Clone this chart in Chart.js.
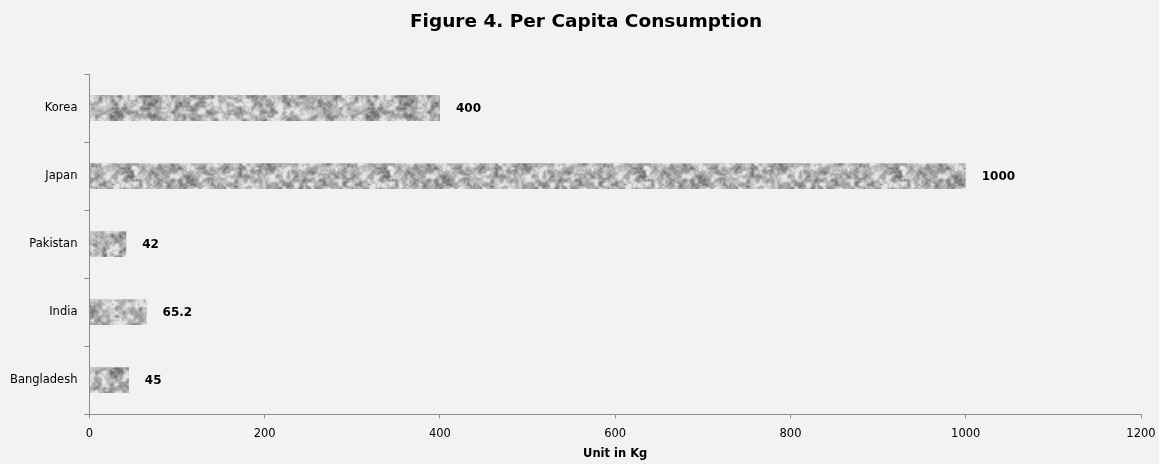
<!DOCTYPE html>
<html>
<head>
<meta charset="utf-8">
<script src="https://cdn.jsdelivr.net/npm/chart.js@4.4.1/dist/chart.umd.min.js"></script>
<style>
  html, body { margin: 0; padding: 0; background: #f2f2f2; }
  #wrap { width: 1159px; height: 464px; position: relative; }
</style>
</head>
<body>
<div id="wrap"><canvas id="chart" width="1159" height="464"></canvas></div>
<script>
// Per capita consumption by country (kg)
const countries = ['Korea', 'Japan', 'Pakistan', 'India', 'Bangladesh'];
const consumption = [400, 1000, 42, 65.2, 45];
const xTicks = [0, 200, 400, 600, 800, 1000, 1200];
const chartTitle = 'Figure 4. Per Capita Consumption';

const FONT = "'DejaVu Sans', Verdana, sans-serif";

// Granite-like fill: smoothed value noise from a seeded generator
function makeGranite(size) {
  let s = 98765;
  const rnd = () => { s = (s * 1664525 + 1013904223) >>> 0; return s / 4294967296; };
  function grid(n) { const g = []; for (let i = 0; i < n * n; i++) g.push(rnd()); return g; }
  function sample(g, n, x, y) {
    const xi = Math.floor(x), yi = Math.floor(y), fx = x - xi, fy = y - yi;
    const a = g[((yi % n) * n + (xi % n))], b = g[((yi % n) * n + ((xi + 1) % n))];
    const c = g[(((yi + 1) % n) * n + (xi % n))], d = g[(((yi + 1) % n) * n + ((xi + 1) % n))];
    const sx = fx * fx * (3 - 2 * fx), sy = fy * fy * (3 - 2 * fy);
    return (a * (1 - sx) + b * sx) * (1 - sy) + (c * (1 - sx) + d * sx) * sy;
  }
  const octs = [{ cell: 8, w: 0.35 }, { cell: 4, w: 0.4 }, { cell: 2, w: 0.25 }].map(o => {
    const n = size / o.cell; return { n, cell: o.cell, w: o.w, g: grid(n) };
  });
  const cv = document.createElement('canvas');
  cv.width = size; cv.height = size;
  const c = cv.getContext('2d');
  const img = c.createImageData(size, size);
  for (let y = 0; y < size; y++) {
    for (let x = 0; x < size; x++) {
      let v = 0;
      for (const o of octs) v += o.w * sample(o.g, o.n, x / o.cell, y / o.cell);
      v = Math.min(1, Math.max(0, (v - 0.5) * 1.8 + 0.58));
      const gray = Math.round(110 + v * 120);
      const i = (y * size + x) * 4;
      img.data[i] = gray; img.data[i + 1] = gray; img.data[i + 2] = gray + 3; img.data[i + 3] = 255;
    }
  }
  c.putImageData(img, 0, 0);
  return c.createPattern(cv, 'repeat');
}

const ctx = document.getElementById('chart').getContext('2d');
const granite = makeGranite(256);

// Value labels to the right of each bar
const valueLabels = {
  id: 'valueLabels',
  afterDatasetsDraw(chart) {
    const c = chart.ctx;
    const meta = chart.getDatasetMeta(0);
    c.save();
    c.font = "bold 12px " + FONT;
    c.fillStyle = '#000';
    c.textAlign = 'left';
    c.textBaseline = 'middle';
    meta.data.forEach((bar, i) => {
      const v = chart.data.datasets[0].data[i];
      c.fillText(String(v), bar.x + 16, bar.y + 1);
    });
    c.restore();
  }
};

// Background fill and heading
const frame = {
  id: 'frame',
  beforeDraw(chart) {
    const c = chart.ctx;
    c.save();
    c.fillStyle = '#f2f2f2';
    c.fillRect(0, 0, chart.width, chart.height);
    c.font = "bold 18.5px " + FONT;
    c.fillStyle = '#000';
    c.textAlign = 'center';
    c.textBaseline = 'middle';
    c.fillText(chartTitle, 586, 22);
    c.restore();
  }
};

new Chart(ctx, {
  type: 'bar',
  data: {
    labels: countries,
    datasets: [{
      data: consumption,
      backgroundColor: granite,
      borderWidth: 0,
      categoryPercentage: 0.76,
      barPercentage: 0.5
    }]
  },
  options: {
    indexAxis: 'y',
    responsive: false,
    animation: false,
    layout: { padding: { top: 74, right: 1, bottom: 3, left: 3 } },
    plugins: {
      legend: { display: false },
      tooltip: { enabled: false },
      title: { display: false }
    },
    scales: {
      x: {
        min: 0, max: 1200,
        afterBuildTicks(scale) { scale.ticks = xTicks.map(v => ({ value: v })); },
        afterFit(scale) { scale.paddingRight = 18; },
        grid: { drawOnChartArea: false, drawTicks: true, tickLength: 4, color: '#8c8c8c' },
        border: { color: '#8c8c8c', width: 1 },
        ticks: {
          color: '#000', font: { family: FONT, size: 11.5, lineHeight: 1 }, padding: 10, maxRotation: 0,
          callback: (v) => String(v)
        },
        title: {
          display: true, text: 'Unit in Kg', color: '#000',
          font: { family: FONT, size: 11.5, weight: 'bold' }, padding: { top: -2.5, bottom: 0 }
        }
      },
      y: {
        grid: { drawOnChartArea: false, drawTicks: true, tickLength: 5, color: '#8c8c8c', offset: true },
        border: { color: '#8c8c8c', width: 1 },
        ticks: { color: '#000', font: { family: FONT, size: 11.5 }, padding: 7 }
      }
    }
  },
  plugins: [frame, valueLabels]
});
</script>
</body>
</html>
